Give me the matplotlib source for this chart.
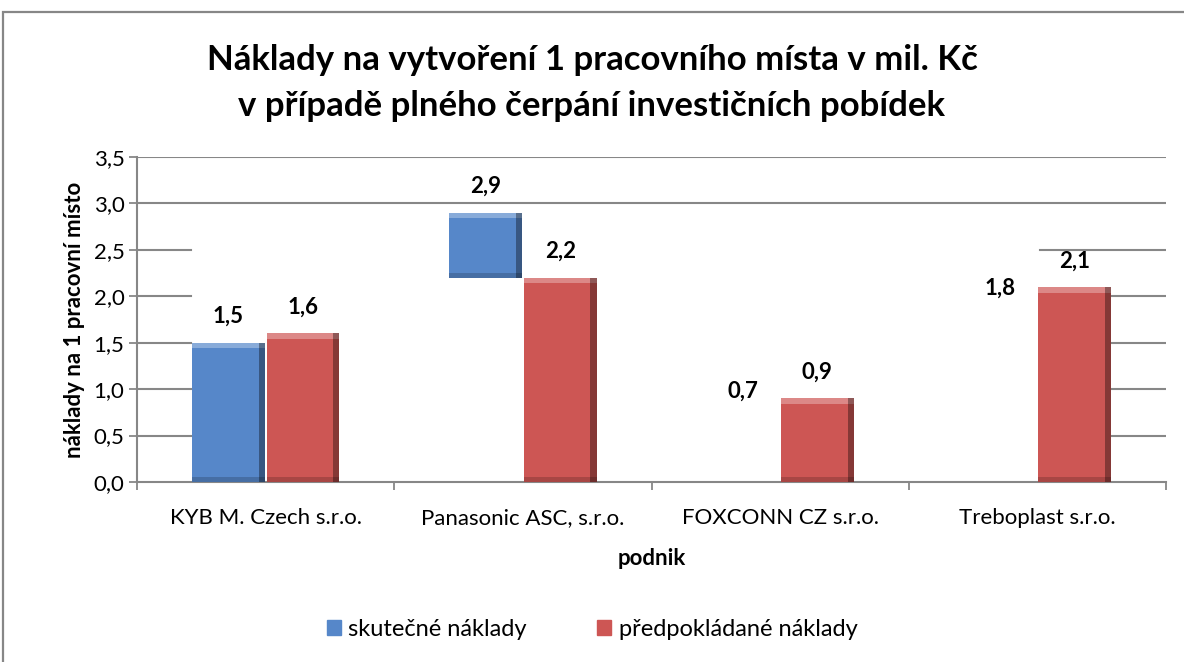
import matplotlib
matplotlib.use("Agg")
import matplotlib.pyplot as plt
from matplotlib.patches import Rectangle
import numpy as np

plt.rcParams['font.family'] = ['Lato', 'DejaVu Sans']

# data
podniky = ["KYB M. Czech s.r.o.", "Panasonic ASC, s.r.o.", "FOXCONN CZ s.r.o.", "Treboplast s.r.o."]
skutecne = [1.5, 2.9, 0.7, 1.8]
predpokladane = [1.6, 2.2, 0.9, 2.1]
# in the original only part of the blue bars is drawn (rendering quirk)
skutecne_viditelne = [True, True, False, False]
yticks = [0.0, 0.5, 1.0, 1.5, 2.0, 2.5, 3.0, 3.5]

title = "Náklady na vytvoření 1 pracovního místa v mil. Kč\nv případě plného čerpání investičních pobídek"
ylabel = "náklady na 1 pracovní místo"
xlabel = "podnik"
legend_labels = ["skutečné náklady", "předpokládané náklady"]

blue = "#5687C9"
red = "#CD5654"
grid_c = "#878787"

W, H = 1184, 662
fig = plt.figure(figsize=(W / 100, H / 100), dpi=100)
ax = fig.add_axes([137 / W, 1 - 482 / H, (1166 - 137) / W, (482 - 157) / H])

# outer chart frame
fig.patches.append(Rectangle((3 / W, -0.01), 1.1, 1 - 12 / H + 0.01, transform=fig.transFigure,
                             fill=False, edgecolor=grid_c, lw=1.6, zorder=0))

x = np.arange(len(podniky))
bw = 0.283
off = 0.145
fs = 16


def bevel(x0, y0, w, h, base):
    # fake Excel bevel: light top strip, dark right edge
    ax.bar(x0, h, w, bottom=y0, color=base, edgecolor="none", zorder=3)
    t = min(0.06, h * 0.3)
    ax.bar(x0, t, w, bottom=y0 + h - t, color="white", alpha=0.3, edgecolor="none", zorder=4)
    ax.bar(x0 + w / 2 - 0.012, h, 0.024, bottom=y0, color="black", alpha=0.35,
           edgecolor="none", zorder=4)
    ax.bar(x0, 0.05, w, bottom=y0, color="black", alpha=0.18, edgecolor="none", zorder=4)


def fmt(v):
    return f"{v:.1f}".replace(".", ",")


for i in range(len(podniky)):
    if skutecne_viditelne[i]:
        base = predpokladane[i] if skutecne[i] > predpokladane[i] else 0
        bevel(x[i] - off, base, bw, skutecne[i] - base, blue)
    bevel(x[i] + off, 0, bw, predpokladane[i], red)
    ax.text(x[i] - off, skutecne[i] + 0.17, fmt(skutecne[i]),
            ha="center", va="bottom", fontsize=fs, fontweight="bold")
    ax.text(x[i] + off, predpokladane[i] + 0.17, fmt(predpokladane[i]),
            ha="center", va="bottom", fontsize=fs, fontweight="bold")

ax.set_xlim(-0.5, len(podniky) - 0.5)
ax.set_ylim(0, 3.5)

# gridlines (partly hidden in the original)
for v in yticks[1:]:
    if v >= 3.0:
        ax.axhline(v, color=grid_c, lw=1.5, zorder=1)
    else:
        ax.axhline(v, 0, 0.052, color=grid_c, lw=1.5, zorder=1)
        ax.axhline(v, 0.878 if v == 2.5 else 0.948, 1, color=grid_c, lw=1.5, zorder=1)

ax.set_yticks(yticks)
ax.set_yticklabels([fmt(t) for t in yticks], fontsize=fs)
ax.set_xticks(x)
ax.set_xticklabels(podniky, fontsize=fs)
ax.set_xticks(np.arange(-0.5, len(podniky)), minor=True)
ax.tick_params(axis="x", which="major", length=0, pad=19)
ax.tick_params(axis="x", which="minor", length=6, color=grid_c, width=1.3)
ax.tick_params(axis="y", length=6, color=grid_c, width=1.3, pad=3)

for s in ["top", "right"]:
    ax.spines[s].set_visible(False)
for s in ["left", "bottom"]:
    ax.spines[s].set_color(grid_c)
    ax.spines[s].set_linewidth(1.5)

ax.set_ylabel(ylabel, fontsize=fs, fontweight="bold", labelpad=6)
ax.set_xlabel(xlabel, fontsize=fs, fontweight="bold", labelpad=14)

fig.text(0.5, 1 - 83 / H, title, ha="center", va="center", fontsize=25, fontweight="bold",
         linespacing=1.5)

handles = [Rectangle((0, 0), 1, 1, color=blue), Rectangle((0, 0), 1, 1, color=red)]
fig.legend(handles, legend_labels, loc="center", bbox_to_anchor=(0.5, 1 - 629 / H), ncol=2,
           frameon=False, fontsize=17, handlelength=0.6, handleheight=0.6,
           handletextpad=0.3, columnspacing=3.0)

fig.savefig("out.png", dpi=100)
